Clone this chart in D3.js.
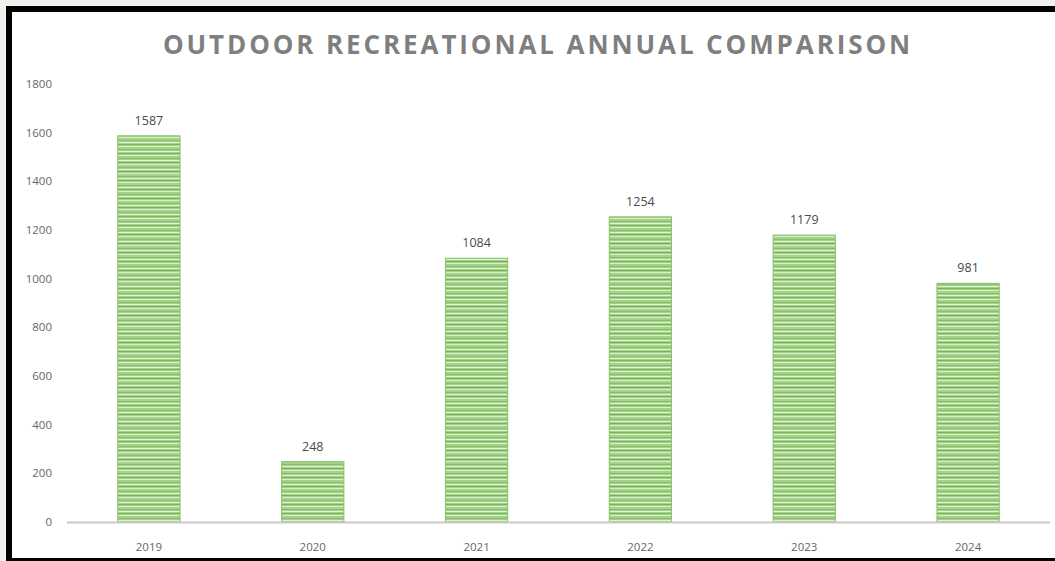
<!DOCTYPE html>
<html>
<head>
<meta charset="utf-8">
<script src="https://cdn.jsdelivr.net/npm/d3@7"></script>
<style>
  html, body { margin: 0; padding: 0; background: #f0f2ee; }
  svg { display: block; }
</style>
</head>
<body>
<div id="chart"></div>
<script>
const years = ["2019", "2020", "2021", "2022", "2023", "2024"];
const visits = [1587, 248, 1084, 1254, 1179, 981];
const yTicks = [0, 200, 400, 600, 800, 1000, 1200, 1400, 1600, 1800];
const title = "OUTDOOR RECREATIONAL ANNUAL COMPARISON";

const W = 1055, H = 561;
const plotLeft = 67, plotRight = 1050, plotTop = 84, plotBottom = 522;

const svg = d3.select("#chart").append("svg")
    .attr("width", W)
    .attr("height", H);

// frame
svg.append("rect").attr("x", 6).attr("y", 6).attr("width", W - 6).attr("height", H - 6).attr("fill", "black");
svg.append("rect").attr("x", 12).attr("y", 12).attr("width", W - 12).attr("height", H - 15).attr("fill", "white");

// striped fill like the excel bars
const defs = svg.append("defs");
const pat = defs.append("pattern")
    .attr("id", "stripes")
    .attr("patternUnits", "userSpaceOnUse")
    .attr("width", 10).attr("height", 9);
pat.append("rect").attr("width", 10).attr("height", 9).attr("fill", "#a6d18c");
pat.append("rect").attr("y", 0).attr("width", 10).attr("height", 1).attr("fill", "#74b64f");
pat.append("rect").attr("y", 2).attr("width", 10).attr("height", 1).attr("fill", "#d9eecd");
pat.append("rect").attr("y", 5).attr("width", 10).attr("height", 1).attr("fill", "#86c264");
pat.append("rect").attr("y", 7).attr("width", 10).attr("height", 1).attr("fill", "#e2f2d8");

const x = d3.scaleBand()
    .domain(years)
    .range([plotLeft, plotRight])
    .paddingInner(0.62)
    .paddingOuter(0.31);

const y = d3.scaleLinear()
    .domain([0, 1800])
    .range([plotBottom, plotTop]);

// title
svg.append("text")
    .attr("x", 538)
    .attr("y", 54)
    .attr("text-anchor", "middle")
    .attr("font-family", "Open Sans, sans-serif")
    .attr("font-weight", "bold")
    .attr("font-size", 26)
    .attr("letter-spacing", 2.9)
    .attr("fill", "#7f7f7f")
    .text(title);

// y axis labels
svg.append("g")
    .selectAll("text")
    .data(yTicks)
    .enter().append("text")
    .attr("x", 52)
    .attr("y", d => y(d) + 4)
    .attr("text-anchor", "end")
    .attr("font-family", "Open Sans, sans-serif")
    .attr("font-size", 11.5)
    .attr("fill", "#666666")
    .text(d => d);

// bars
svg.append("g")
    .selectAll("rect")
    .data(years)
    .enter().append("rect")
    .attr("x", d => x(d))
    .attr("y", (d, i) => y(visits[i]))
    .attr("width", x.bandwidth())
    .attr("height", (d, i) => plotBottom - y(visits[i]))
    .attr("fill", "url(#stripes)")
    .attr("stroke", "#86c264")
    .attr("stroke-width", 1);

// value labels
svg.append("g")
    .selectAll("text")
    .data(years)
    .enter().append("text")
    .attr("x", d => x(d) + x.bandwidth() / 2)
    .attr("y", (d, i) => y(visits[i]) - 11)
    .attr("text-anchor", "middle")
    .attr("font-family", "Open Sans, sans-serif")
    .attr("font-size", 12.5)
    .attr("fill", "#4a4a4a")
    .text((d, i) => visits[i]);

// x axis line
svg.append("line")
    .attr("x1", plotLeft).attr("x2", plotRight)
    .attr("y1", plotBottom + 0.5).attr("y2", plotBottom + 0.5)
    .attr("stroke", "#c9c9c9")
    .attr("stroke-width", 2);

// x labels
svg.append("g")
    .selectAll("text")
    .data(years)
    .enter().append("text")
    .attr("x", d => x(d) + x.bandwidth() / 2)
    .attr("y", 551)
    .attr("text-anchor", "middle")
    .attr("font-family", "Open Sans, sans-serif")
    .attr("font-size", 11.5)
    .attr("fill", "#666666")
    .text(d => d);
</script>
</body>
</html>
